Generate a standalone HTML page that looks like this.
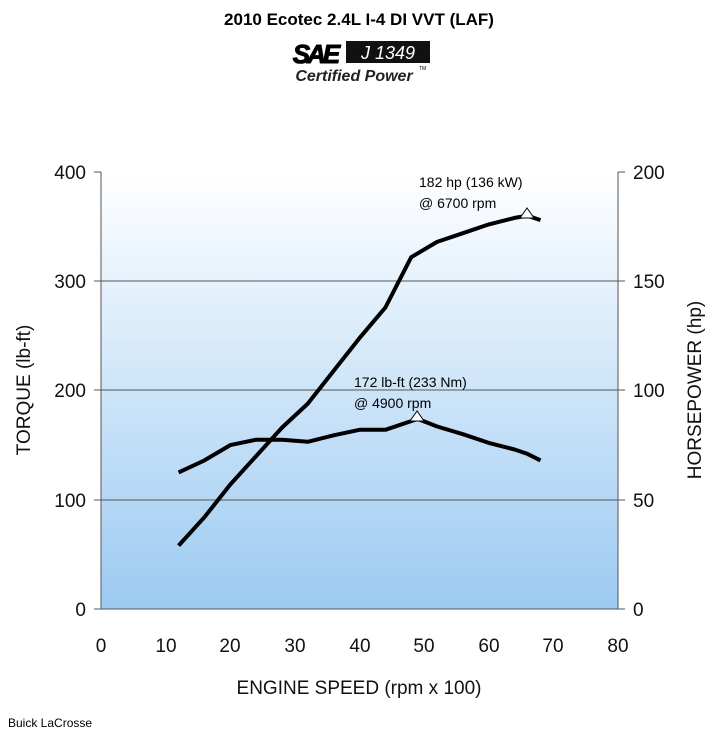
<!DOCTYPE html><html><head><style>body{margin:0;background:#fff}svg{display:block;font-family:"Liberation Sans",Arial,sans-serif}</style></head><body>
<svg width="718" height="750" viewBox="0 0 718 750">
<defs><linearGradient id="g" x1="0" y1="0" x2="0" y2="1"><stop offset="0" stop-color="#ffffff"/><stop offset="1" stop-color="#9ccaf2"/></linearGradient></defs>
<text x="359" y="25" text-anchor="middle" font-size="17" font-weight="bold">2010 Ecotec 2.4L I-4 DI VVT (LAF)</text>
<text x="315" y="63" text-anchor="middle" font-size="26" font-weight="900" font-style="italic" letter-spacing="-3" stroke="#000" stroke-width="1">SAE</text>
<rect x="346" y="41" width="84" height="22" fill="#111"/>
<text x="388" y="59" text-anchor="middle" font-size="18" font-style="italic" fill="#fff">J 1349</text>
<text x="354" y="81" text-anchor="middle" font-size="16" font-style="italic" font-weight="bold" fill="#222">Certified  Power</text>
<text x="419" y="70" font-size="5">TM</text>
<rect x="101" y="172" width="517" height="437" fill="url(#g)"/>
<g stroke="#555" stroke-width="1">
<line x1="101" y1="281" x2="618" y2="281"/><line x1="101" y1="390" x2="618" y2="390"/><line x1="101" y1="500" x2="618" y2="500"/>
<line x1="101" y1="172" x2="101" y2="609"/><line x1="618" y1="172" x2="618" y2="609"/><line x1="101" y1="609" x2="618" y2="609"/>
<line x1="94" y1="172" x2="101" y2="172"/><line x1="94" y1="281" x2="101" y2="281"/><line x1="94" y1="390" x2="101" y2="390"/><line x1="94" y1="500" x2="101" y2="500"/><line x1="94" y1="609" x2="101" y2="609"/>
<line x1="618" y1="172" x2="625" y2="172"/><line x1="618" y1="281" x2="625" y2="281"/><line x1="618" y1="390" x2="625" y2="390"/><line x1="618" y1="500" x2="625" y2="500"/><line x1="618" y1="609" x2="625" y2="609"/>
</g>
<g font-size="19" fill="#111">
<text x="86" y="179" text-anchor="end">400</text><text x="86" y="288" text-anchor="end">300</text><text x="86" y="397" text-anchor="end">200</text><text x="86" y="507" text-anchor="end">100</text><text x="86" y="616" text-anchor="end">0</text>
<text x="633" y="179">200</text><text x="633" y="288">150</text><text x="633" y="397">100</text><text x="633" y="507">50</text><text x="633" y="616">0</text>
<g text-anchor="middle"><text x="101" y="652">0</text><text x="166" y="652">10</text><text x="230" y="652">20</text><text x="295" y="652">30</text><text x="360" y="652">40</text><text x="424" y="652">50</text><text x="489" y="652">60</text><text x="553" y="652">70</text><text x="618" y="652">80</text></g>
<text x="359" y="694" text-anchor="middle">ENGINE SPEED (rpm x 100)</text>
<text transform="translate(30,390) rotate(-90)" text-anchor="middle">TORQUE (lb-ft)</text>
<text transform="translate(701,390) rotate(-90)" text-anchor="middle">HORSEPOWER (hp)</text>
</g>
<polyline fill="none" stroke="#000" stroke-width="4" stroke-linejoin="round" points="178.6,472.4 204.4,460.4 230.3,445.1 256.1,439.7 282,439.7 307.8,441.8 333.7,435.3 359.5,429.8 385.4,429.8 411.2,421.1 417.7,418.9 437.1,426.5 462.9,434.2 488.8,442.9 514.6,449.5 527.5,453.9 540.5,460.4"/>
<polyline fill="none" stroke="#000" stroke-width="4" stroke-linejoin="round" points="178.6,545.6 204.4,517.2 230.3,484.5 256.1,456.1 282,427.6 307.8,403.6 333.7,370.8 359.5,338.1 385.4,307.5 411.2,257.2 437.1,241.9 462.9,233.2 488.8,224.4 514.6,217.9 527.5,215.7 540.5,220.1"/>
<polygon points="527,208 520,218 534,218" fill="#fff" stroke="#000" stroke-width="1"/>
<polygon points="417,411 410,421 424,421" fill="#fff" stroke="#000" stroke-width="1"/>
<g font-size="14"><text x="419" y="187">182 hp (136 kW)</text><text x="419" y="208">@ 6700 rpm</text>
<text x="354" y="387">172 lb-ft (233 Nm)</text><text x="354" y="408">@ 4900 rpm</text></g>
<text x="8" y="727" font-size="12">Buick LaCrosse</text>
</svg></body></html>
